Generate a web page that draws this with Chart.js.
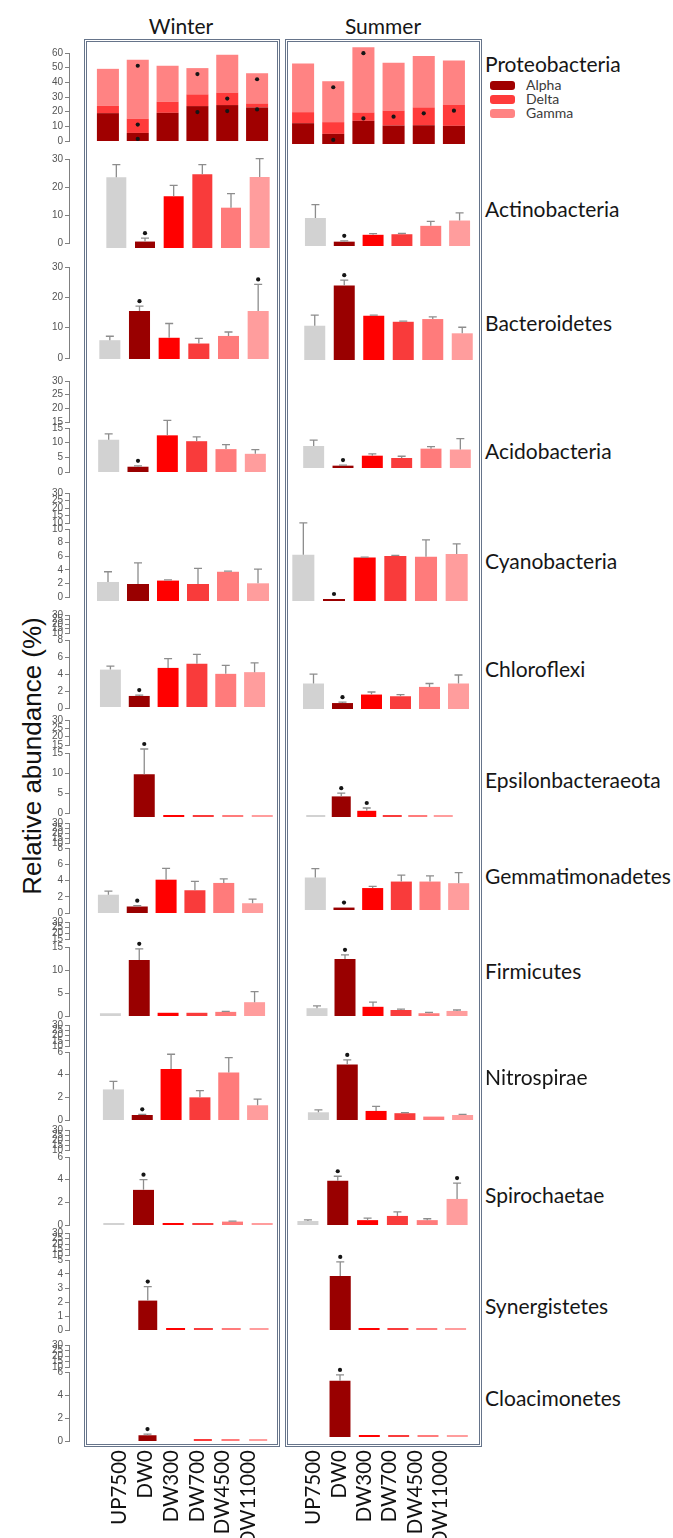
<!DOCTYPE html>
<html>
<head>
<meta charset="utf-8">
<script src="https://cdn.jsdelivr.net/npm/chart.js@4.4.1/dist/chart.umd.min.js"></script>
<style>
  html, body { margin: 0; padding: 0; background: #fff; }
  #fig { position: relative; width: 673px; height: 1538px; overflow: hidden; background: #fff;
         font-family: Lato, "Open Sans", sans-serif; }
  #fig canvas { position: absolute; }
  .box { position: absolute; box-sizing: border-box; border: 3px double #66748a; pointer-events: none; }
  .txt { position: absolute; white-space: nowrap; color: #161616; line-height: 1; }
</style>
</head>
<body>
<div id="fig"></div>
<script>
// ---------------- data: relative abundance (%) ----------------
const categories = ['UP7500', 'DW0', 'DW300', 'DW700', 'DW4500', 'DW11000'];
const seasons = ['Winter', 'Summer'];
const phyla = ['Proteobacteria', 'Actinobacteria', 'Bacteroidetes', 'Acidobacteria', 'Cyanobacteria',
  'Chloroflexi', 'Epsilonbacteraeota', 'Gemmatimonadetes', 'Firmicutes', 'Nitrospirae',
  'Spirochaetae', 'Synergistetes', 'Cloacimonetes'];
const proteoClasses = ['Alpha', 'Delta', 'Gamma'];

// Proteobacteria, stacked by class (1 = significant difference)
const alphaWinter = [19.0, 5.5, 19.2, 23.8, 24.5, 22.9];
const deltaWinter = [5.0, 9.8, 7.6, 8.0, 8.5, 2.7];
const gammaWinter = [25.2, 40.1, 24.5, 17.9, 25.8, 20.6];
const alphaSigWinter = [0, 1, 0, 1, 1, 0];
const deltaSigWinter = [0, 1, 0, 0, 1, 1];
const gammaSigWinter = [0, 1, 0, 1, 0, 1];
const alphaSummer = [14.2, 6.9, 15.8, 12.6, 12.8, 12.4];
const deltaSummer = [7.5, 8.0, 5.7, 10.1, 12.2, 14.4];
const gammaSummer = [33.2, 27.9, 44.5, 32.7, 35.0, 30.2];
const alphaSigSummer = [0, 1, 0, 0, 0, 0];
const deltaSigSummer = [0, 0, 1, 1, 1, 1];
const gammaSigSummer = [0, 1, 1, 0, 0, 0];

// other phyla: mean, error (upper bar), significance
const actinoWinter = [25.3, 2.3, 18.5, 26.3, 14.4, 25.4];
const actinoWinterErr = [4.5, 1.2, 3.9, 3.5, 5.0, 6.5];
const actinoWinterSig = [0, 1, 0, 0, 0, 0];
const actinoSummer = [10.0, 1.55, 4.0, 4.2, 7.2, 9.1];
const actinoSummerErr = [4.8, 0.3, 0.4, 0.3, 1.6, 2.7];
const actinoSummerSig = [0, 1, 0, 0, 0, 0];

const bacteroWinter = [6.2, 15.8, 7.0, 5.1, 7.6, 15.8];
const bacteroWinterErr = [1.3, 1.6, 4.7, 1.7, 1.3, 8.8];
const bacteroWinterSig = [0, 1, 0, 0, 0, 1];
const bacteroSummer = [11.3, 24.6, 14.6, 12.6, 13.5, 8.8];
const bacteroSummerErr = [3.5, 1.7, 0.2, 0.2, 0.7, 2.0];
const bacteroSummerSig = [0, 1, 0, 0, 0, 0];

const acidoWinter = [11.0, 1.8, 12.5, 10.5, 7.8, 6.2];
const acidoWinterErr = [2.0, 0.3, 5.1, 1.5, 1.5, 1.4];
const acidoWinterSig = [0, 1, 0, 0, 0, 0];
const acidoSummer = [7.5, 0.8, 4.2, 3.4, 6.6, 6.3];
const acidoSummerErr = [2.0, 0.2, 0.6, 0.6, 0.7, 3.7];
const acidoSummerSig = [0, 1, 0, 0, 0, 0];

const cyanoWinter = [2.8, 2.5, 3.0, 2.5, 4.3, 2.6];
const cyanoWinterErr = [1.5, 3.1, 0.1, 2.3, 0.1, 2.1];
const cyanoWinterSig = [0, 0, 0, 0, 0, 0];
const cyanoSummer = [6.8, 0.25, 6.4, 6.6, 6.5, 6.9];
const cyanoSummerErr = [4.7, 0, 0.05, 0.1, 2.5, 1.5];
const cyanoSummerSig = [0, 1, 0, 0, 0, 0];

const chloroWinter = [4.4, 1.3, 4.6, 5.1, 3.9, 4.1];
const chloroWinterErr = [0.4, 0.1, 1.1, 1.1, 1.0, 1.1];
const chloroWinterSig = [0, 1, 0, 0, 0, 0];
const chloroSummer = [3.0, 0.7, 1.7, 1.5, 2.6, 3.0];
const chloroSummerErr = [1.1, 0.1, 0.3, 0.2, 0.4, 1.0];
const chloroSummerSig = [0, 1, 0, 0, 0, 0];

const epsilonWinter = [null, 10.7, 0.05, 0.1, 0.1, 0.05];
const epsilonWinterErr = [0, 6.3, 0, 0, 0, 0];
const epsilonWinterSig = [0, 1, 0, 0, 0, 0];
const epsilonSummer = [0.05, 5.15, 1.55, 0.1, 0.1, 0.05];
const epsilonSummerErr = [0, 0.8, 0.7, 0, 0, 0];
const epsilonSummerSig = [0, 1, 1, 0, 0, 0];

const gemmaWinter = [2.25, 0.8, 4.1, 2.8, 3.7, 1.2];
const gemmaWinterErr = [0.45, 0.1, 1.4, 1.1, 0.5, 0.5];
const gemmaWinterSig = [0, 1, 0, 0, 0, 0];
const gemmaSummer = [4.0, 0.3, 2.7, 3.5, 3.5, 3.3];
const gemmaSummerErr = [1.1, 0, 0.2, 0.8, 0.7, 1.3];
const gemmaSummerSig = [0, 1, 0, 0, 0, 0];

const firmiWinter = [0.6, 12.2, 0.7, 0.7, 0.9, 3.0];
const firmiWinterErr = [0, 2.4, 0, 0, 0.1, 2.3];
const firmiWinterSig = [0, 1, 0, 0, 0, 0];
const firmiSummer = [1.7, 12.4, 2.0, 1.3, 0.6, 1.1];
const firmiSummerErr = [0.5, 0.9, 1.0, 0.2, 0.2, 0.2];
const firmiSummerSig = [0, 1, 0, 0, 0, 0];

const nitroWinter = [2.7, 0.44, 4.5, 2.0, 4.2, 1.3];
const nitroWinterErr = [0.7, 0.06, 1.3, 0.6, 1.3, 0.55];
const nitroWinterSig = [0, 1, 0, 0, 0, 0];
const nitroSummer = [0.68, 4.9, 0.8, 0.6, 0.3, 0.44];
const nitroSummerErr = [0.22, 0.4, 0.4, 0.05, 0, 0.06];
const nitroSummerSig = [0, 1, 0, 0, 0, 0];

const spiroWinter = [0.1, 3.1, 0.15, 0.1, 0.3, 0.1];
const spiroWinterErr = [0, 0.9, 0, 0, 0.05, 0];
const spiroWinterSig = [0, 1, 0, 0, 0, 0];
const spiroSummer = [0.35, 3.9, 0.43, 0.8, 0.43, 2.3];
const spiroSummerErr = [0.1, 0.4, 0.17, 0.35, 0.12, 1.4];
const spiroSummerSig = [0, 1, 0, 0, 0, 1];

const synergWinter = [null, 2.1, 0.05, 0.08, 0.05, 0.05];
const synergWinterErr = [0, 1.0, 0, 0, 0, 0];
const synergWinterSig = [0, 1, 0, 0, 0, 0];
const synergSummer = [null, 3.86, 0.1, 0.05, 0.03, 0.05];
const synergSummerErr = [0, 1.0, 0, 0, 0, 0];
const synergSummerSig = [0, 1, 0, 0, 0, 0];

const cloaciWinter = [null, 0.5, null, 0.05, 0.05, 0.02];
const cloaciWinterErr = [0, 0.1, 0, 0, 0, 0];
const cloaciWinterSig = [0, 1, 0, 0, 0, 0];
const cloaciSummer = [null, 4.9, 0.05, 0.05, 0.02, 0.02];
const cloaciSummerErr = [0, 0.5, 0, 0, 0, 0];
const cloaciSummerSig = [0, 1, 0, 0, 0, 0];

// y-axis segments [min, max, step]; broken axes list the lower part first
const proteoTicks = [[0, 60, 10]];
const actinoTicks = [[0, 30, 10]];
const bacteroTicks = [[0, 30, 10]];
const acidoTicks = [[0, 15, 5], [15, 30, 5]];
const cyanoTicks = [[0, 10, 2], [10, 30, 5]];
const chloroTicks = [[0, 8, 2], [10, 30, 5]];
const epsilonTicks = [[0, 15, 5], [15, 30, 5]];
const gemmaTicks = [[0, 8, 2], [10, 30, 5]];
const firmiTicks = [[0, 15, 5], [15, 30, 5]];
const nitroTicks = [[0, 6, 2], [10, 30, 5]];
const spiroTicks = [[0, 6, 2], [10, 30, 5]];
const synergTicks = [[0, 5, 1], [10, 30, 5]];
const cloaciTicks = [[0, 6, 2], [10, 30, 5]];

// ---------------- styling ----------------
const categoryColors = ['#d2d2d2', '#990000', '#ff0000', '#f93b3b', '#ff7b7b', '#ff9d9d'];
const classColors = ['#a00000', '#ff3b3b', '#ff8383'];

// ---------------- page geometry (px) ----------------
// axis: [top, bottom] of each tick segment; w / s: [zero line, first bar centre, last bar centre, bar width]
const rowLayout = [
  { axis: [[53, 141]], w: [141, 108, 257, 22], s: [144, 303.5, 454, 22], label: 63 },
  { axis: [[159, 243]], w: [248, 116, 259.5, 20], s: [246, 315, 459.5, 21], label: 208 },
  { axis: [[267, 358]], w: [359, 109.5, 257.5, 21], s: [360, 314.5, 462, 21], label: 322 },
  { axis: [[428, 472], [381, 422]], w: [472, 109, 255.5, 21], s: [468, 313.5, 460.5, 21], label: 450 },
  { axis: [[529, 597], [493, 523]], w: [601, 108, 258, 22], s: [601, 303, 456, 22], label: 560 },
  { axis: [[640, 708], [615, 633]], w: [707, 110.5, 255, 21], s: [709, 313.5, 458.5, 21], label: 668 },
  { axis: [[753, 813], [720, 745]], w: [817, 114.5, 262, 21], s: [817, 315.5, 443, 19], label: 779 },
  { axis: [[848, 913], [823, 843]], w: [913, 108.5, 252.5, 21], s: [910, 315.5, 458.5, 21], label: 875 },
  { axis: [[947, 1016], [922, 939]], w: [1016, 110.5, 255, 21], s: [1016, 316.5, 456.5, 21], label: 970 },
  { axis: [[1052, 1120], [1025, 1046]], w: [1120, 113.5, 257.5, 21], s: [1120, 318.5, 462.5, 21], label: 1076 },
  { axis: [[1157, 1225], [1130, 1150]], w: [1225, 113.5, 261.5, 21], s: [1225, 307.5, 456.5, 21], label: 1194 },
  { axis: [[1260, 1330], [1233, 1255]], w: [1330, 120, 259.5, 19], s: [1330, 311, 455, 21], label: 1305 },
  { axis: [[1372, 1441], [1345, 1367]], w: [1441, 120, 258, 18], s: [1437, 311, 458, 21], label: 1397 }
];

const tickSegments = [proteoTicks, actinoTicks, bacteroTicks, acidoTicks, cyanoTicks, chloroTicks,
  epsilonTicks, gemmaTicks, firmiTicks, nitroTicks, spiroTicks, synergTicks, cloaciTicks];

const singleSeries = [
  null,
  [actinoWinter, actinoWinterErr, actinoWinterSig, actinoSummer, actinoSummerErr, actinoSummerSig],
  [bacteroWinter, bacteroWinterErr, bacteroWinterSig, bacteroSummer, bacteroSummerErr, bacteroSummerSig],
  [acidoWinter, acidoWinterErr, acidoWinterSig, acidoSummer, acidoSummerErr, acidoSummerSig],
  [cyanoWinter, cyanoWinterErr, cyanoWinterSig, cyanoSummer, cyanoSummerErr, cyanoSummerSig],
  [chloroWinter, chloroWinterErr, chloroWinterSig, chloroSummer, chloroSummerErr, chloroSummerSig],
  [epsilonWinter, epsilonWinterErr, epsilonWinterSig, epsilonSummer, epsilonSummerErr, epsilonSummerSig],
  [gemmaWinter, gemmaWinterErr, gemmaWinterSig, gemmaSummer, gemmaSummerErr, gemmaSummerSig],
  [firmiWinter, firmiWinterErr, firmiWinterSig, firmiSummer, firmiSummerErr, firmiSummerSig],
  [nitroWinter, nitroWinterErr, nitroWinterSig, nitroSummer, nitroSummerErr, nitroSummerSig],
  [spiroWinter, spiroWinterErr, spiroWinterSig, spiroSummer, spiroSummerErr, spiroSummerSig],
  [synergWinter, synergWinterErr, synergWinterSig, synergSummer, synergSummerErr, synergSummerSig],
  [cloaciWinter, cloaciWinterErr, cloaciWinterSig, cloaciSummer, cloaciSummerErr, cloaciSummerSig]
];

// ---------------- helpers ----------------
const fig = document.getElementById('fig');

function addCanvas(x, y, w, h) {
  const c = document.createElement('canvas');
  x = Math.round(x); y = Math.round(y); w = Math.round(w); h = Math.round(h);
  c.width = w; c.height = h;
  c.style.left = x + 'px'; c.style.top = y + 'px';
  c.style.width = w + 'px'; c.style.height = h + 'px';
  fig.appendChild(c);
  return c.getContext('2d');
}

function addText(str, x, y, css) {
  const d = document.createElement('div');
  d.className = 'txt';
  d.textContent = str;
  d.style.left = x + 'px';
  d.style.top = y + 'px';
  Object.assign(d.style, css || {});
  fig.appendChild(d);
  return d;
}

const baseOptions = () => ({
  responsive: false,
  animation: false,
  events: [],
  plugins: { legend: { display: false }, tooltip: { enabled: false } }
});

// error bars (upper whisker + cap) and significance dots
const markPlugin = {
  id: 'errorAndSignificance',
  afterDatasetsDraw(chart) {
    const ctx = chart.ctx;
    const yScale = chart.scales.y;
    chart.data.datasets.forEach((ds, di) => {
      const meta = chart.getDatasetMeta(di);
      meta.data.forEach((bar, i) => {
        const v = ds.data[i];
        if (v === null || v === undefined) return;
        let topY = bar.y;
        if (ds.errors && ds.errors[i] > 0) {
          const ey = yScale.getPixelForValue(v + ds.errors[i]);
          ctx.save();
          ctx.strokeStyle = '#8d8d8d';
          ctx.lineWidth = 1.3;
          ctx.beginPath();
          ctx.moveTo(bar.x, bar.y);
          ctx.lineTo(bar.x, ey);
          ctx.moveTo(bar.x - 4, ey);
          ctx.lineTo(bar.x + 4, ey);
          ctx.stroke();
          ctx.restore();
          topY = ey;
        }
        if (ds.sig && ds.sig[i]) {
          const sy = ds.sigInside ? bar.y + 6 : topY - 5;
          ctx.save();
          ctx.fillStyle = '#151515';
          ctx.beginPath();
          ctx.arc(bar.x, sy, 2.1, 0, Math.PI * 2);
          ctx.fill();
          ctx.restore();
        }
      });
    });
  }
};

// one y-axis segment drawn by its own linear scale
function drawAxisSegment(seg, px) {
  const [min, max, step] = seg;
  const [top, bottom] = px;
  const pad = 8;
  const ctx = addCanvas(28, top - pad, 44, bottom - top + 2 * pad);
  const opts = baseOptions();
  opts.layout = { padding: { top: pad, bottom: pad, left: 0, right: 0 } };
  opts.scales = {
    x: { display: false },
    y: {
      min: min, max: max,
      afterFit: (s) => { s.width = 41; },
      ticks: { stepSize: step, autoSkip: false, padding: 2, color: '#555555',
               font: { family: '"Liberation Sans", Arial, sans-serif', size: 10 } },
      grid: { display: true, drawOnChartArea: false, drawTicks: true, tickLength: 4, color: '#808080' },
      border: { display: true, color: '#808080', width: 1 }
    }
  };
  new Chart(ctx, { type: 'bar', data: { labels: [], datasets: [] }, options: opts });
}

// one season panel of a phylum row
function drawPanel(geom, unitPx, datasets, stacked) {
  const [zero, c0, c5, bw] = geom;
  const step = (c5 - c0) / 5;
  const above = 106, below = 6;
  const ctx = addCanvas(c0 - step / 2, zero - above, step * 6, above + below);
  const opts = baseOptions();
  opts.layout = { padding: 0 };
  opts.scales = {
    x: { display: false, stacked: stacked, offset: true },
    y: { display: false, stacked: stacked, min: -below / unitPx, max: above / unitPx }
  };
  opts.datasets = { bar: { barPercentage: bw / step, categoryPercentage: 1, minBarLength: 2 } };
  new Chart(ctx, { type: 'bar', data: { labels: categories, datasets: datasets }, options: opts, plugins: [markPlugin] });
}

// category names under a season box
function drawCategoryAxis(c0, c5) {
  const step = (c5 - c0) / 5;
  const h = 98;
  const ctx = addCanvas(c0 - step / 2, 1440, step * 6, h);
  const opts = baseOptions();
  opts.layout = { padding: 0 };
  opts.scales = {
    x: {
      offset: true, position: 'bottom',
      afterFit: (s) => { s.height = h - 6; },
      grid: { display: false, drawTicks: false }, border: { display: false },
      ticks: { minRotation: 90, maxRotation: 90, autoSkip: false, padding: 4, color: '#111111',
               font: { family: 'Lato, "Open Sans", sans-serif', size: 20.5 } }
    },
    y: { display: false }
  };
  new Chart(ctx, { type: 'bar', data: { labels: categories, datasets: [] }, options: opts });
}

// ---------------- frame & titles ----------------
const boxW = document.createElement('div');
boxW.className = 'box';
Object.assign(boxW.style, { left: '84px', top: '39px', width: '196px', height: '1408px' });
fig.appendChild(boxW);
const boxS = document.createElement('div');
boxS.className = 'box';
Object.assign(boxS.style, { left: '285px', top: '39px', width: '197px', height: '1408px' });
fig.appendChild(boxS);

addText(seasons[0], 181, 25, { fontSize: '21px', transform: 'translate(-50%,-50%)' });
addText(seasons[1], 383, 25, { fontSize: '21px', transform: 'translate(-50%,-50%)' });

addText('Relative abundance (%)', 32, 756, {
  fontFamily: '"Liberation Sans", Arial, sans-serif', fontSize: '26px', color: '#111',
  transform: 'translate(-50%,-50%) rotate(-90deg)'
});

// ---------------- rows ----------------
rowLayout.forEach((row, r) => {
  const segs = tickSegments[r];
  segs.forEach((seg, j) => drawAxisSegment(seg, row.axis[j]));

  const low = segs[0];
  const unitPx = (row.axis[0][1] - row.axis[0][0]) / (low[1] - low[0]);

  if (r === 0) {
    const winterSets = [
      { label: proteoClasses[0], data: alphaWinter, sig: alphaSigWinter },
      { label: proteoClasses[1], data: deltaWinter, sig: deltaSigWinter },
      { label: proteoClasses[2], data: gammaWinter, sig: gammaSigWinter }
    ];
    const summerSets = [
      { label: proteoClasses[0], data: alphaSummer, sig: alphaSigSummer },
      { label: proteoClasses[1], data: deltaSummer, sig: deltaSigSummer },
      { label: proteoClasses[2], data: gammaSummer, sig: gammaSigSummer }
    ];
    [winterSets, summerSets].forEach((sets) => sets.forEach((ds, k) => {
      ds.backgroundColor = classColors[k];
      ds.sigInside = true;
    }));
    drawPanel(row.w, unitPx, winterSets, true);
    drawPanel(row.s, unitPx, summerSets, true);
  } else {
    const [wv, we, wsig, sv, se, ssig] = singleSeries[r];
    drawPanel(row.w, unitPx, [{ label: seasons[0], data: wv, errors: we, sig: wsig, backgroundColor: categoryColors }], false);
    drawPanel(row.s, unitPx, [{ label: seasons[1], data: sv, errors: se, sig: ssig, backgroundColor: categoryColors }], false);
  }

  addText(phyla[r], 485, row.label, { fontSize: '21px', transform: 'translateY(-50%)' });
});

// Proteobacteria class key
proteoClasses.forEach((name, k) => {
  const y = 85 + k * 14;
  const sw = document.createElement('div');
  Object.assign(sw.style, { position: 'absolute', left: '490px', top: (y - 4.5) + 'px', width: '25px', height: '9px',
    borderRadius: '3px', background: classColors[k] });
  fig.appendChild(sw);
  addText(name, 526, y, { fontSize: '14px', color: '#3a3a3a', transform: 'translateY(-50%)' });
});

// station names
drawCategoryAxis(121, 263);
drawCategoryAxis(315, 455);
</script>
</body>
</html>
